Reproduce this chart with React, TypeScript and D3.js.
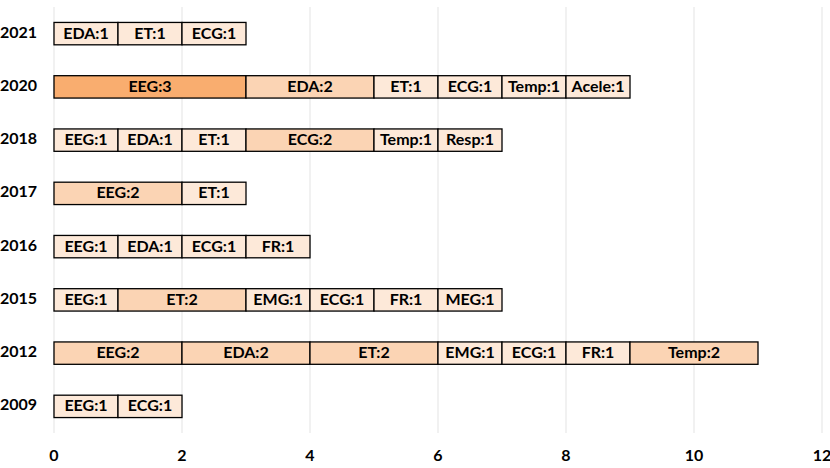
import React from "react";
import * as d3 from "d3";

const years = ["2021", "2020", "2018", "2017", "2016", "2015", "2012", "2009"];
const rowSignals: string[][] = [
  ["EDA", "ET", "ECG"],
  ["EEG", "EDA", "ET", "ECG", "Temp", "Acele"],
  ["EEG", "EDA", "ET", "ECG", "Temp", "Resp"],
  ["EEG", "ET"],
  ["EEG", "EDA", "ECG", "FR"],
  ["EEG", "ET", "EMG", "ECG", "FR", "MEG"],
  ["EEG", "EDA", "ET", "EMG", "ECG", "FR", "Temp"],
  ["EEG", "ECG"],
];
const rowCounts: number[][] = [
  [1, 1, 1],
  [3, 2, 1, 1, 1, 1],
  [1, 1, 1, 2, 1, 1],
  [2, 1],
  [1, 1, 1, 1],
  [1, 2, 1, 1, 1, 1],
  [2, 2, 2, 1, 1, 1, 2],
  [1, 1],
];
const xTicks = [0, 2, 4, 6, 8, 10, 12];
const countColors: Record<number, string> = { 1: "#FDE9D9", 2: "#FBD4B4", 3: "#F9AD6F" };

const W = 830;
const H = 468;
const left = 54;
const right = 822;
const top = 7;
const bottom = 433;
const font = "Lato, sans-serif";

export default function App() {
  const x = d3.scaleLinear().domain([0, 12]).range([left, right]);
  const y = d3.scaleBand().domain(years).range([top, bottom]).paddingInner(0.58).paddingOuter(0.29);
  const bh = y.bandwidth();

  return (
    <svg width={W} height={H} style={{ position: "absolute", left: 0, top: 0 }} fontFamily={font}>
      <rect width={W} height={H} fill="#fff" />
      {xTicks.map((t) => (
        <line key={t} x1={x(t)} x2={x(t)} y1={top} y2={bottom} stroke="#e3e3e3" strokeWidth={1} />
      ))}
      {xTicks.map((t) => (
        <text key={"t" + t} x={x(t)} y={457} textAnchor="middle" dominantBaseline="middle" fontSize={16} fontWeight="bold" fill="#000">
          {t}
        </text>
      ))}
      {years.map((yr, i) => {
        const yc = (y(yr) as number) + bh / 2;
        let acc = 0;
        return (
          <g key={yr}>
            <text x={37} y={yc} textAnchor="end" dominantBaseline="middle" fontSize={16} fontWeight="bold" fill="#000">
              {yr}
            </text>
            {rowSignals[i].map((s, j) => {
              const v = rowCounts[i][j];
              const x0 = x(acc);
              const x1 = x(acc + v);
              acc += v;
              return (
                <g key={s + j}>
                  <rect x={x0} y={y(yr)} width={x1 - x0} height={bh} fill={countColors[v]} stroke="#000" strokeWidth={1.3} />
                  <text x={(x0 + x1) / 2} y={yc + 1} textAnchor="middle" dominantBaseline="middle" fontSize={16} fontWeight="bold" fill="#000">
                    {s}:{v}
                  </text>
                </g>
              );
            })}
          </g>
        );
      })}
    </svg>
  );
}
